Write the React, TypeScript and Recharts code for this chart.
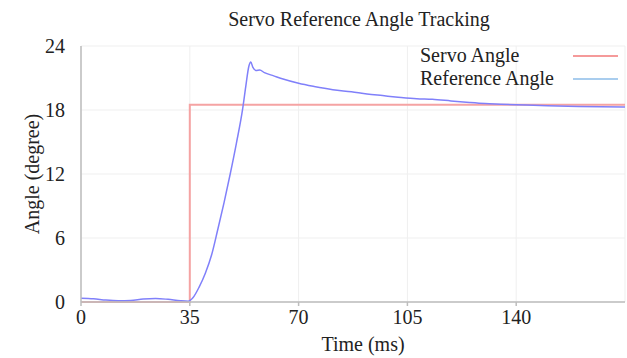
import React from "react";
import { LineChart, Line, XAxis, YAxis, CartesianGrid, Legend } from "recharts";

const servoTime = [0, 35, 175];
const servoAngle = [0, 18.5, 18.5];

const refTime = [
  0, 4, 8, 12, 16, 20, 24, 28, 32, 34.5, 36, 38, 40, 42, 44, 46, 48, 50, 52, 53, 54, 54.6, 55.3, 56.3,
  57.5, 59, 62, 65, 70, 75, 81, 87, 92, 97, 102, 108, 113, 119, 125, 130, 135, 140, 150, 160, 175,
];
const refAngle = [
  0.35, 0.3, 0.18, 0.12, 0.15, 0.28, 0.33, 0.25, 0.12, 0.08, 0.4, 1.4, 2.7, 4.4, 6.8, 9.3, 12.0, 14.9,
  18.1, 20.2, 22.1, 22.5, 22.0, 21.7, 21.75, 21.5, 21.2, 20.9, 20.5, 20.2, 19.9, 19.7, 19.5, 19.35, 19.2,
  19.05, 19.0, 18.85, 18.7, 18.6, 18.55, 18.5, 18.4, 18.33, 18.28,
];

const xTicks = [0, 35, 70, 105, 140];
const yTicks = [0, 6, 12, 18, 24];

const legendItems = [
  { name: "Servo Angle", color: "#f59a9a" },
  { name: "Reference Angle", color: "#a9cdee" },
];

const servoData = servoTime.map((t, i) => ({ t, v: servoAngle[i] }));
const refData = refTime.map((t, i) => ({ t, v: refAngle[i] }));

const FONT = "'Liberation Serif', 'Times New Roman', serif";

function XTick(props: any) {
  const { x, y, payload } = props;
  return (
    <text x={x} y={y} dy={14} textAnchor="middle" fill="#222" style={{ fontSize: 20, fontFamily: FONT }}>
      {payload.value}
    </text>
  );
}

function YTick(props: any) {
  const { x, y, payload } = props;
  return (
    <text x={x} y={y} dy={7} textAnchor="end" fill="#222" style={{ fontSize: 20, fontFamily: FONT }}>
      {payload.value}
    </text>
  );
}

function LegendBox() {
  return (
    <div style={{ position: "absolute", left: 420, top: 44, fontFamily: FONT, fontSize: 20, color: "#222" }}>
      {legendItems.map((it) => (
        <div key={it.name} style={{ display: "flex", alignItems: "center", height: 23 }}>
          <span style={{ width: 153 }}>{it.name}</span>
          <span style={{ display: "inline-block", width: 45, height: 2, background: it.color }} />
        </div>
      ))}
    </div>
  );
}

export default function App() {
  return (
    <div style={{ position: "absolute", left: 0, top: 0, width: 627, height: 358, background: "#fff" }}>
      <div
        style={{
          position: "absolute",
          left: 0,
          width: 718,
          top: 8,
          textAlign: "center",
          fontFamily: FONT,
          fontSize: 20,
          color: "#222",
        }}
      >
        Servo Reference Angle Tracking
      </div>
      <LineChart width={627} height={358} margin={{ top: 46, right: 2, bottom: 0, left: 0 }}>
        <CartesianGrid stroke="#efefef" strokeWidth={1} />
        <XAxis
          dataKey="t"
          type="number"
          domain={[0, 175]}
          ticks={xTicks}
          allowDataOverflow
          height={56}
          stroke="#bdbdbd"
          strokeWidth={1.5}
          tickSize={4}
          tickMargin={4}
          tick={<XTick />}
          label={{
            value: "Time (ms)",
            position: "insideBottom",
            offset: 7,
            dx: 10,
            style: { fill: "#222", fontSize: 20, fontFamily: FONT },
          }}
        />
        <YAxis
          type="number"
          domain={[0, 24]}
          ticks={yTicks}
          width={81}
          stroke="#bdbdbd"
          strokeWidth={1.5}
          tickLine={false}
          tickMargin={10}
          tick={<YTick />}
          label={{
            value: "Angle (degree)",
            angle: -90,
            position: "center",
            dx: -9,
            style: { fill: "#222", fontSize: 20, fontFamily: FONT, textAnchor: "middle" },
          }}
        />
        <Legend content={() => <LegendBox />} wrapperStyle={{ position: "absolute", left: 0, top: 0, width: 0, height: 0 }} />
        <Line
          data={servoData}
          dataKey="v"
          name="Servo Angle"
          type="stepAfter"
          stroke="#f5a3a3"
          strokeWidth={2}
          dot={false}
          isAnimationActive={false}
        />
        <Line
          data={refData}
          dataKey="v"
          name="Reference Angle"
          type="monotone"
          stroke="#8080fa"
          strokeWidth={1.5}
          dot={false}
          isAnimationActive={false}
        />
      </LineChart>
    </div>
  );
}
